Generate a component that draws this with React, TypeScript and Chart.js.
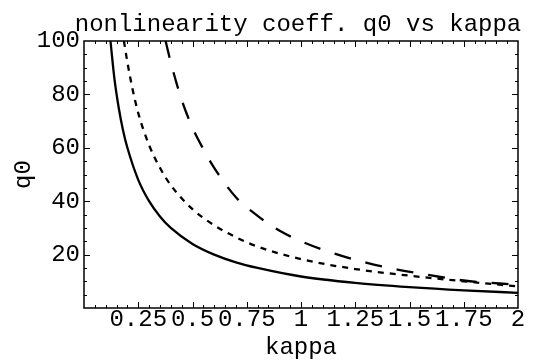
import { useEffect, useRef } from "react";
import { Chart, registerables } from "chart.js";

Chart.register(...registerables);

// q0 against kappa for three cases (solid, dotted, dashed)
const kappaSolid = [0.122, 0.14, 0.16, 0.18, 0.2, 0.25, 0.3, 0.35, 0.4, 0.5, 0.6, 0.7, 0.8, 1.0, 1.25, 1.5, 1.75, 2.0];
const q0Solid = [100, 86, 75, 66.5, 60, 48, 40, 34.3, 30, 24, 20, 17.1, 15, 11.8, 9.4, 7.8, 6.6, 5.7];

const kappaDotted = [0.184, 0.2, 0.225, 0.25, 0.3, 0.35, 0.4, 0.5, 0.6, 0.7, 0.8, 1.0, 1.25, 1.5, 1.75, 2.0];
const q0Dotted = [100, 92, 81.5, 73, 61, 52.5, 46, 37, 31, 26.5, 23, 18.3, 14.6, 12.1, 10, 8.1];

const kappaDashed = [0.376, 0.4, 0.45, 0.5, 0.55, 0.6, 0.7, 0.8, 0.9, 1.0, 1.15, 1.3, 1.45, 1.6, 1.75, 2.0];
const q0Dashed = [100, 92, 78, 67.5, 59.5, 52.5, 41.5, 34.5, 29, 25, 20.5, 17, 14.3, 12.2, 10.3, 8.7];

const xTickValues = [0.25, 0.5, 0.75, 1, 1.25, 1.5, 1.75, 2];
const xTickLabels = ["0.25", "0.5", "0.75", "1", "1.25", "1.5", "1.75", "2"];
const yTickValues = [20, 40, 60, 80, 100];
const yTickLabels = ["20", "40", "60", "80", "100"];

const TITLE = "nonlinearity coeff. q0 vs kappa";
const FONT = "'Liberation Mono', 'Courier New', monospace";

const toPoints = (xs: number[], ys: number[]) => xs.map((x, i) => ({ x, y: ys[i] }));

// Box frame with inward ticks on all four sides, plus the heading above it
const framePlugin = {
  id: "frameTicks",
  afterDraw(chart: any) {
    const { ctx, chartArea } = chart;
    const { left, right, top, bottom } = chartArea;
    const xs = chart.scales.x;
    const ys = chart.scales.y;
    ctx.save();
    ctx.strokeStyle = "#000";
    ctx.lineWidth = 1;
    ctx.beginPath();
    for (let i = 1; i < 40; i++) {
      const px = Math.round(xs.getPixelForValue(i / 20)) + 0.5;
      const len = i % 5 === 0 ? 6 : 3;
      ctx.moveTo(px, bottom);
      ctx.lineTo(px, bottom - len);
      ctx.moveTo(px, top);
      ctx.lineTo(px, top + len);
    }
    for (let i = 1; i < 20; i++) {
      const py = Math.round(ys.getPixelForValue(i * 5)) + 0.5;
      const len = i % 4 === 0 ? 6 : 3;
      ctx.moveTo(left, py);
      ctx.lineTo(left + len, py);
      ctx.moveTo(right, py);
      ctx.lineTo(right - len, py);
    }
    ctx.stroke();
    ctx.lineWidth = 1.5;
    ctx.strokeRect(left, top, right - left, bottom - top);

    ctx.fillStyle = "#000";
    ctx.font = `24px ${FONT}`;
    ctx.textAlign = "center";
    ctx.textBaseline = "alphabetic";
    ctx.fillText(TITLE, (left + right) / 2 - 3, top - 10.5);
    ctx.restore();
  },
};

export default function App() {
  const canvasRef = useRef<HTMLCanvasElement | null>(null);

  useEffect(() => {
    if (!canvasRef.current) return;
    const chart = new Chart(canvasRef.current, {
      type: "line",
      data: {
        datasets: [
          {
            data: toPoints(kappaSolid, q0Solid),
            borderColor: "#000",
            borderWidth: 2.3,
            pointRadius: 0,
            cubicInterpolationMode: "monotone",
          },
          {
            data: toPoints(kappaDotted, q0Dotted),
            borderColor: "#000",
            borderWidth: 2.3,
            borderDash: [6, 6],
            pointRadius: 0,
            cubicInterpolationMode: "monotone",
          },
          {
            data: toPoints(kappaDashed, q0Dashed),
            borderColor: "#000",
            borderWidth: 2.3,
            borderDash: [17, 15],
            pointRadius: 0,
            cubicInterpolationMode: "monotone",
          },
        ],
      },
      options: {
        animation: false,
        responsive: true,
        maintainAspectRatio: false,
        layout: { padding: { top: 41, right: 15, bottom: 0, left: 0 } },
        plugins: {
          legend: { display: false },
          tooltip: { enabled: false },
          title: { display: false },
        },
        scales: {
          x: {
            type: "linear",
            min: 0,
            max: 2,
            grid: { display: false, drawTicks: false },
            border: { display: false },
            afterBuildTicks: (axis: any) => {
              axis.ticks = xTickValues.map((v) => ({ value: v }));
            },
            afterFit: (scale: any) => {
              scale.height = 52;
            },
            ticks: {
              autoSkip: false,
              maxRotation: 0,
              minRotation: 0,
              padding: 0,
              color: "#000",
              font: { family: FONT, size: 24, lineHeight: 1 },
              callback: (_v: any, i: number) => xTickLabels[i],
            },
            title: {
              display: true,
              text: "kappa",
              color: "#000",
              font: { family: FONT, size: 24, lineHeight: 1 },
              padding: { top: 0, bottom: 0 },
            },
          },
          y: {
            type: "linear",
            min: 0,
            max: 100,
            grid: { display: false, drawTicks: false },
            border: { display: false },
            afterBuildTicks: (axis: any) => {
              axis.ticks = yTickValues.map((v) => ({ value: v }));
            },
            afterFit: (scale: any) => {
              scale.width = 84;
            },
            ticks: {
              padding: 4,
              color: "#000",
              font: { family: FONT, size: 24, lineHeight: 1.2 },
              callback: (_v: any, i: number) => yTickLabels[i],
            },
            title: {
              display: true,
              text: "q0",
              color: "#000",
              font: { family: FONT, size: 24, lineHeight: 1.2 },
              padding: { top: 9, bottom: 0 },
            },
          },
        },
      },
      plugins: [framePlugin],
    });
    return () => chart.destroy();
  }, []);

  return (
    <div style={{ position: "fixed", left: 0, top: 0, width: 533, height: 360, background: "#fff" }}>
      <canvas ref={canvasRef} />
    </div>
  );
}
